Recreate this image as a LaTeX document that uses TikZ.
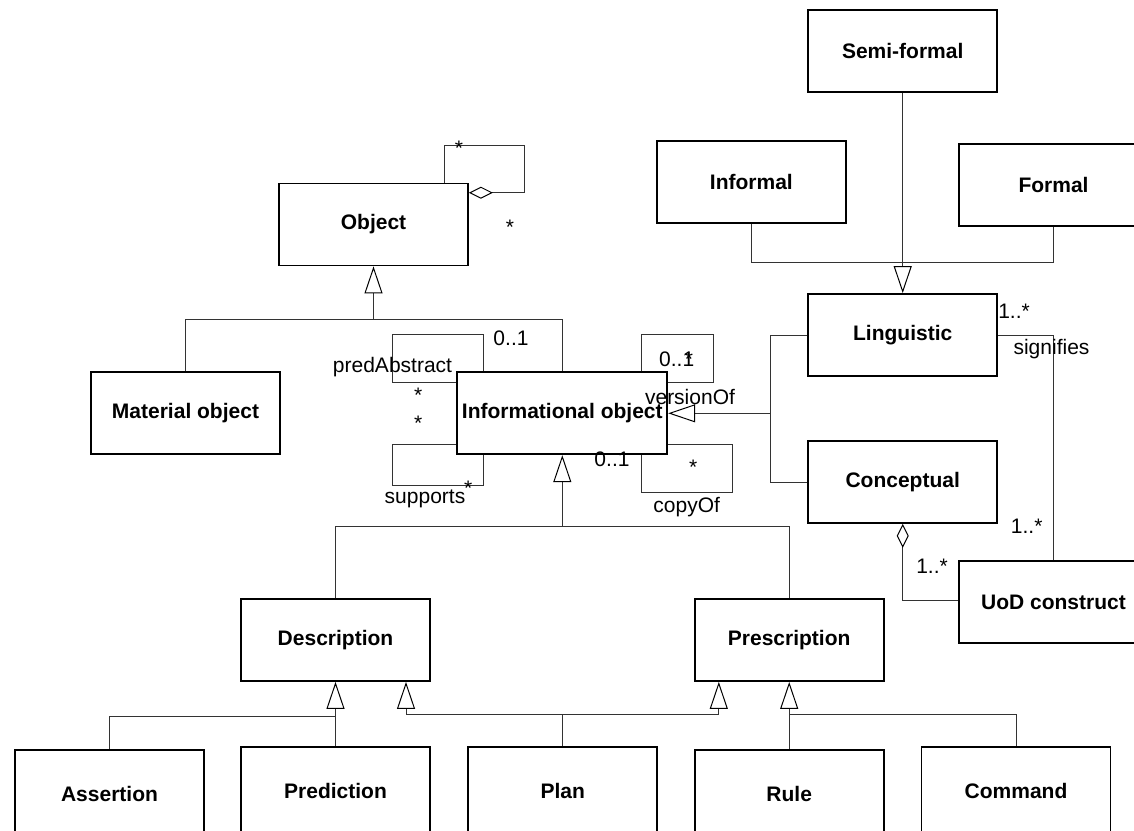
\documentclass[tikz,border=0pt]{standalone}
\usepackage{fontspec}
\setmainfont{Liberation Sans}
\usetikzlibrary{arrows.meta}
\begin{document}
\begin{tikzpicture}[x=1pt,y=-1pt,
  cls/.style={draw=black, line width=1.8pt, fill=white, inner sep=0pt,
    minimum width=189pt, minimum height=82pt,
    font=\fontsize{21}{25}\selectfont\bfseries},
  low/.style={minimum height=88pt},
  conn/.style={draw=black!80, line width=1pt},
  gen/.style={conn, -{Triangle[open, length=27pt, width=18pt, color=black]}},
  agg/.style={conn, {Diamond[open, length=24pt, width=12pt, color=black]}-},
  lbl/.style={font=\fontsize{21}{25}\selectfont, inner sep=0pt, anchor=base}
]
\useasboundingbox (0,0) rectangle (1134,830);
\fill[white] (0,0) rectangle (1134,830);
\clip (0,0) rectangle (1134,830);

% classes
\node[cls] (semi)     at (902.7,51)    {Semi-formal};
\node[cls] (informal) at (751.4,182)   {Informal};
\node[cls] (formal)   at (1053.5,185)  {Formal};
\node[cls] (ling)     at (902.7,335)   {Linguistic};
\node[cls] (conc)     at (902.7,482)   {Conceptual};
\node[cls] (uod)      at (1053.5,602)  {UoD construct};
\node[cls] (obj)      at (373.5,224.5) {Object};
\node[cls] (mat)      at (185.5,413.3) {Material object};
\node[cls, minimum width=210pt] (info) at (562.3,413.3) {Informational object};
\node[cls] (desc)     at (335.5,640)   {Description};
\node[cls] (pres)     at (789.2,640)   {Prescription};
% bottom row runs past the lower edge
\node[cls, low] (asrt) at (109.5,794)  {Assertion};
\node[cls, low] (pred) at (335.5,791)  {Prediction};
\node[cls, low] (plan) at (562.7,791)  {Plan};
\node[cls, low] (rule) at (789.2,794)  {Rule};
\node[cls, low] (cmd)  at (1016,791)   {Command};

% Object: self aggregation
\draw[agg] (obj.east |- 0,192.7) -- (524.3,192.7) -- (524.3,145.7)
  -- (444.3,145.7) -- (444.3,0 |- obj.north);

% Material object / Informational object specialise Object
\coordinate (jo) at (373.5,319.3);
\draw[conn] (mat.north) |- (jo) -| (info.north);
\draw[gen] (jo) -- (obj.south);

% self associations of Informational object
\draw[conn] (483.3,0 |- info.north) -- (483.3,334.3) -- (392.3,334.3)
  -- (392.3,382.3) -- (info.west |- 0,382.3);
\draw[conn] (info.west |- 0,444.3) -- (392.3,444.3) -- (392.3,485.7)
  -- (483.3,485.7) -- (483.3,0 |- info.south);
\draw[conn] (641.7,0 |- info.north) -- (641.7,334.3) -- (713.3,334.3)
  -- (713.3,382.3) -- (info.east |- 0,382.3);
\draw[conn] (info.east |- 0,444.3) -- (732.3,444.3) -- (732.3,492.7)
  -- (641.7,492.7) -- (641.7,0 |- info.south);

% Linguistic / Conceptual specialise Informational object
\coordinate (ji) at (770.7,413.3);
\draw[conn] (ling.west) -| (ji);
\draw[conn] (conc.west) -| (ji);
\draw[gen] (ji) -- (info.east |- ji);

% Informal / Semi-formal / Formal specialise Linguistic
\coordinate (jl) at (902.7,262);
\draw[conn] (informal.south) |- (jl);
\draw[conn] (formal.south) |- (jl);
\draw[conn] (semi.south) -- (jl);
\draw[gen] (jl) -- (ling.north);

% signifies
\draw[conn] (ling.east) -| (uod.north);

% Conceptual aggregates UoD construct
\draw[agg] (conc.south) |- (uod.west |- 0,600);

% Description / Prescription specialise Informational object
\coordinate (jd) at (562.3,526.7);
\draw[conn] (desc.north) |- (jd) -| (pres.north);
\draw[gen] (jd) -- (info.south);

% bottom row
\coordinate (jb1) at (335.5,716);
\coordinate (jb2) at (406,714);
\coordinate (jb3) at (718.8,714);
\coordinate (jb4) at (789.2,714);
\draw[conn] (asrt.north) |- (jb1);
\draw[gen] (pred.north) -- (desc.south);
\draw[conn] (plan.north) |- (jb2);
\draw[conn] (plan.north) |- (jb3);
\draw[gen] (jb2) -- (desc.south -| jb2);
\draw[gen] (jb3) -- (pres.south -| jb3);
\draw[gen] (rule.north) -- (pres.south);
\draw[conn] (cmd.north) |- (jb4);

% multiplicities and role names
\node[lbl] at (459,155) {*};
\node[lbl] at (510,234) {*};
\node[lbl] at (511,345.5) {0..1};
\node[lbl] at (392.5,372) {predAbstract};
\node[lbl] at (418.3,402) {*};
\node[lbl] at (418.3,430) {*};
\node[lbl] at (468.3,495) {*};
\node[lbl] at (425,503) {supports};
\node[lbl] at (676.7,366.8) {0..1};
\node[lbl] at (689,366.8) {*};
\node[lbl] at (690,404) {versionOf};
\node[lbl] at (693.3,474) {*};
\node[lbl] at (612,466.8) {0..1};
\node[lbl] at (686.7,512) {copyOf};
\node[lbl] at (1014,318) {1..*};
\node[lbl] at (1051.5,354) {signifies};
\node[lbl] at (1026.7,533) {1..*};
\node[lbl] at (932,573) {1..*};
\end{tikzpicture}
\end{document}
